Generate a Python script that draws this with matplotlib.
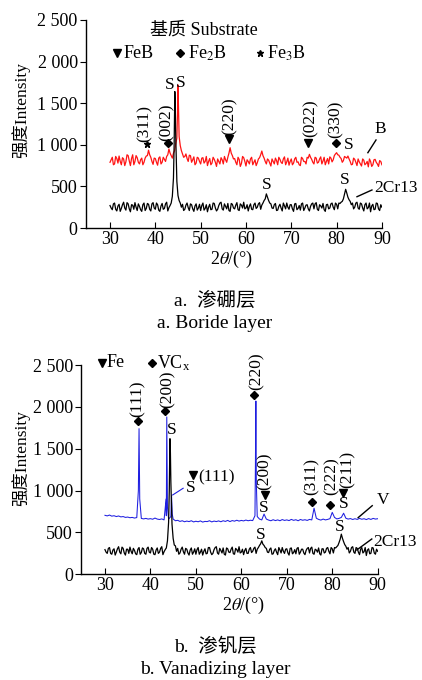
import numpy as np
import matplotlib
matplotlib.use("Agg")
import matplotlib.pyplot as plt

plt.rcParams['font.family'] = ['Liberation Serif', 'Noto Sans CJK SC']
plt.rcParams['mathtext.fontset'] = 'stix'

# 2theta grid: main points every 0.5 degree, mid points in between
two_theta = np.linspace(30, 90, 121)
two_theta_mid = np.linspace(30.25, 89.75, 120)

# (a) boride layer, red curve
boride = [790, 850, 770, 835, 865, 760, 830, 795, 870, 750,
          880, 800, 845, 770, 840, 790, 865, 935, 850, 765,
          835, 755, 855, 790, 825, 860, 950, 870, 900, 1010,
          1720, 990, 890, 860, 835, 875, 790, 855, 780, 840,
          770, 845, 800, 750, 835, 780, 825, 740, 800, 845,
          770, 820, 850, 965, 870, 835, 760, 825, 775, 845,
          745, 800, 830, 760, 820, 785, 845, 925, 840, 770,
          815, 745, 800, 840, 760, 825, 775, 855, 795, 755,
          830, 780, 850, 795, 750, 835, 800, 850, 885, 825,
          770, 840, 790, 855, 805, 760, 835, 855, 795, 870,
          905, 875, 835, 810, 850, 865, 800, 765, 825, 750,
          795, 745, 815, 775, 735, 800, 760, 825, 770, 810,
          760]
boride_mid = [820, 760, 860, 780, 800, 845, 750, 880, 805, 835,
              760, 870, 790, 820, 760, 840, 870, 880, 800, 840,
              790, 840, 770, 850, 800, 880, 900, 840, 930, 1080,
              1100, 930, 850, 890, 800, 870, 820, 760, 850, 800,
              840, 780, 860, 800, 760, 850, 790, 830, 770, 820,
              860, 790, 900, 900, 830, 790, 850, 740, 860, 800,
              820, 770, 850, 790, 750, 830, 880, 870, 800, 830,
              780, 830, 770, 810, 850, 790, 830, 760, 840, 800,
              760, 830, 790, 760, 850, 800, 770, 840, 850, 790,
              850, 780, 830, 770, 850, 800, 770, 840, 820, 890,
              880, 850, 790, 860, 840, 830, 760, 840, 790, 830,
              770, 830, 760, 800, 830, 740, 820, 790, 740, 800]
boride_peak_x = [44.9, 45.1]
boride_peak_y = [1400, 1450]

# (a) substrate 2Cr13, black curve
sub_a = [270, 220, 300, 205, 285, 235, 310, 215, 290, 195,
         275, 305, 210, 260, 200, 300, 235, 285, 205, 305,
         225, 280, 200, 295, 235, 310, 245, 300, 600, 1100,
         390, 300, 285, 225, 300, 210, 280, 200, 290, 240,
         210, 300, 235, 195, 285, 225, 295, 205, 270, 310,
         215, 260, 295, 200, 285, 230, 305, 210, 275, 310,
         240, 205, 290, 220, 300, 250, 305, 275, 330, 410,
         330, 290, 235, 295, 215, 285, 205, 265, 300, 225,
         280, 200, 295, 235, 215, 300, 240, 280, 205, 290,
         230, 305, 210, 265, 295, 200, 285, 240, 300, 220,
         285, 300, 310, 350, 465, 370, 320, 300, 250, 310,
         225, 290, 205, 300, 245, 195, 285, 225, 295, 210,
         250]
sub_a_mid = [240, 290, 225, 265, 200, 280, 240, 305, 230, 280,
             225, 250, 290, 220, 280, 210, 295, 225, 290, 240,
             300, 215, 265, 225, 290, 205, 270, 380, 1400, 560,
             330, 250, 210, 275, 245, 290, 230, 265, 215, 285,
             270, 215, 280, 250, 220, 300, 240, 225, 300, 230,
             290, 230, 210, 295, 240, 275, 220, 290, 240, 230,
             280, 260, 225, 280, 235, 290, 225, 300, 350, 370,
             300, 240, 280, 210, 260, 240, 300, 230, 250, 280,
             230, 290, 220, 270, 290, 210, 275, 230, 260, 300,
             290, 225, 280, 240, 220, 280, 230, 290, 250, 300,
             230, 295, 320, 410, 420, 340, 280, 230, 300, 240,
             300, 240, 280, 230, 300, 265, 220, 300, 230, 280]
sub_a_peak_x = [44.15, 44.3, 44.4]
sub_a_peak_y = [1000, 1640, 1450]

# (b) vanadizing layer, blue curve
vanad = [705, 698, 708, 695, 700, 690, 697, 686, 690, 680,
         684, 676, 680, 672, 678, 1740, 668, 662, 668, 660,
         665, 658, 672, 660, 655, 662, 650, 700, 660, 690,
         660, 640, 645, 632, 640, 628, 636, 630, 640, 626,
         634, 628, 638, 624, 632, 630, 640, 626, 636, 630,
         638, 628, 640, 632, 644, 630, 642, 635, 646, 636,
         644, 638, 648, 640, 646, 642, 700, 690, 660, 650,
         720, 660, 648, 640, 652, 642, 650, 640, 654, 644,
         650, 642, 656, 645, 652, 640, 655, 646, 652, 644,
         656, 650, 790, 670, 656, 648, 660, 650, 656, 665,
         740, 680, 662, 668, 680, 730, 670, 660, 666, 655,
         664, 656, 668, 658, 664, 654, 666, 656, 668, 660,
         664]
vanad_peak_x = [37.35, 37.65, 43.45, 43.6, 43.75, 44.65, 44.8, 63.1, 63.2, 63.3]
vanad_peak_y = [1000, 900, 900, 1880, 800, 940, 720, 1300, 2070, 1100]

# (b) substrate 2Cr13, black curve
sub_b = [295, 250, 320, 240, 305, 265, 330, 245, 310, 230,
         300, 325, 245, 285, 235, 320, 260, 305, 240, 325,
         255, 300, 235, 315, 265, 330, 270, 315, 620, 1100,
         430, 340, 310, 255, 325, 240, 300, 230, 315, 265,
         240, 320, 265, 230, 305, 250, 320, 235, 295, 330,
         240, 285, 315, 230, 305, 260, 325, 240, 295, 330,
         265, 235, 310, 250, 320, 275, 325, 300, 345, 400,
         345, 310, 260, 315, 245, 305, 235, 290, 320, 250,
         305, 230, 315, 260, 245, 320, 265, 300, 235, 310,
         255, 325, 240, 290, 315, 230, 305, 265, 320, 245,
         305, 320, 330, 380, 480, 390, 335, 320, 275, 330,
         250, 310, 235, 320, 270, 225, 305, 250, 315, 240,
         275]
sub_b_mid = [265, 310, 250, 290, 230, 305, 265, 325, 255, 300,
             250, 275, 310, 245, 300, 240, 315, 250, 310, 265,
             320, 240, 290, 250, 310, 235, 295, 400, 1400, 600,
             350, 275, 240, 300, 270, 310, 255, 290, 240, 305,
             295, 240, 300, 275, 245, 320, 265, 250, 320, 255,
             310, 255, 240, 315, 265, 300, 245, 310, 265, 255,
             300, 285, 250, 300, 260, 310, 250, 320, 365, 360,
             320, 265, 300, 240, 285, 265, 320, 255, 275, 300,
             255, 310, 245, 295, 310, 240, 300, 255, 285, 320,
             310, 250, 300, 265, 245, 305, 255, 310, 275, 320,
             255, 315, 345, 420, 430, 355, 300, 255, 320, 265,
             320, 265, 300, 255, 320, 290, 245, 320, 255, 300]
sub_b_peak_x = [44.15, 44.3, 44.4]
sub_b_peak_y = [1000, 1620, 1450]

y_ticks = [0, 500, 1000, 1500, 2000, 2500]
y_tick_labels = ['0', '500', '1 000', '1 500', '2 000', '2 500']
x_ticks = [30, 40, 50, 60, 70, 80, 90]

RED = '#ff1414'
BLUE = '#1e1ee0'


def curve(base, mid, px, py):
    x = np.concatenate([two_theta, two_theta_mid if mid is not None else [], px])
    y = np.concatenate([base, mid if mid is not None else [], py]).astype(float)
    order = np.argsort(x, kind='stable')
    return x[order], y[order]


def style_axes(ax, xmin):
    ax.set_xlim(xmin, 90)
    ax.set_ylim(0, 2500)
    ax.set_xticks(x_ticks)
    ax.set_yticks(y_ticks)
    ax.set_yticklabels(y_tick_labels)
    for s in ['top', 'right']:
        ax.spines[s].set_visible(False)
    for s in ['left', 'bottom']:
        ax.spines[s].set_linewidth(1.0)
    ax.tick_params(axis='x', direction='in', length=4, labelsize=13, pad=2)
    ax.tick_params(axis='y', direction='out', length=4, labelsize=13, pad=2)


def hkl(ax, x, y, s):
    ax.text(x, y, s, rotation=90, ha='center', va='bottom', fontsize=12.5)


def mark(ax, x, y, m, ms):
    ax.plot([x], [y], marker=m, color='k', ms=ms, clip_on=False, ls='none')


def txt(ax, x, y, s, **kw):
    kw.setdefault('fontsize', 12.5)
    kw.setdefault('ha', 'center')
    kw.setdefault('va', 'center')
    ax.text(x, y, s, clip_on=False, **kw)


fig = plt.figure(figsize=(4.22, 6.8), dpi=100)

# ---- panel a ----
ax1 = fig.add_axes([0.2038, 0.6647, 0.7012, 0.3059])
x, y = curve(boride, boride_mid, boride_peak_x, boride_peak_y)
ax1.plot(x, y, color=RED, lw=0.9)
x, y = curve(sub_a, sub_a_mid, sub_a_peak_x, sub_a_peak_y)
ax1.plot(x, y, color='k', lw=0.9)
style_axes(ax1, 24.7)

txt(ax1, 50.8, 2380, '基质 Substrate', fontsize=13)
mark(ax1, 31.5, 2103, 'v', 6)
txt(ax1, 32.9, 2103, 'FeB', ha='left', fontsize=13)
mark(ax1, 45.5, 2103, 'D', 4)
txt(ax1, 47.2, 2103, 'Fe$_2$B', ha='left', fontsize=13)
mark(ax1, 63.1, 2103, '*', 5)
txt(ax1, 64.7, 2103, 'Fe$_3$B', ha='left', fontsize=13)

mark(ax1, 38.2, 1010, '*', 5)
hkl(ax1, 37.6, 1037, '(311)')
mark(ax1, 42.9, 1025, 'D', 4)
hkl(ax1, 42.5, 1050, '(002)')
txt(ax1, 43.1, 1720, 'S')
txt(ax1, 45.5, 1740, 'S')
mark(ax1, 56.3, 1066, 'v', 6)
hkl(ax1, 56.5, 1118, '(220)')
mark(ax1, 73.8, 1018, 'v', 6)
hkl(ax1, 74.2, 1097, '(022)')
mark(ax1, 79.8, 1018, 'D', 4)
hkl(ax1, 79.8, 1082, '(330)')
txt(ax1, 82.6, 998, 'S')
txt(ax1, 89.6, 1190, 'B')
ax1.plot([86.9, 88.7], [905, 1058], color='k', lw=1.0, clip_on=False)
txt(ax1, 64.6, 517, 'S')
txt(ax1, 81.7, 577, 'S')
txt(ax1, 88.3, 481, '2Cr13', ha='left')
ax1.plot([84.5, 87.8], [376, 457], color='k', lw=1.0, clip_on=False)

fig.text(231.7 / 422, 1 - 259 / 680, '2$\\theta$/(°)', ha='center', va='center', fontsize=13)
fig.text(21 / 422, 1 - 110 / 680, '强度Intensity', rotation=90, ha='center', va='center', fontsize=12.5)
fig.text(215 / 422, 1 - 301 / 680, 'a.  渗硼层', ha='center', va='center', fontsize=14)
fig.text(215 / 422, 1 - 323 / 680, 'a. Boride layer', ha='center', va='center', fontsize=14)

# ---- panel b ----
ax2 = fig.add_axes([0.1927, 0.1554, 0.7023, 0.3078])
x, y = curve(vanad, None, vanad_peak_x, vanad_peak_y)
ax2.plot(x, y, color=BLUE, lw=0.75)
x, y = curve(sub_b, sub_b_mid, sub_b_peak_x, sub_b_peak_y)
ax2.plot(x, y, color='k', lw=0.9)
style_axes(ax2, 24.8)

mark(ax2, 29.3, 2530, 'v', 6)
txt(ax2, 30.4, 2530, 'Fe', ha='left', fontsize=13)
mark(ax2, 40.4, 2523, 'D', 4)
txt(ax2, 41.5, 2523, 'VC$_\\mathregular{x}$', ha='left', fontsize=13)

mark(ax2, 37.3, 1834, 'D', 4)
hkl(ax2, 37.3, 1885, '(111)')
mark(ax2, 43.3, 1945, 'D', 4)
hkl(ax2, 43.9, 1990, '(200)')
txt(ax2, 44.7, 1727, 'S')
mark(ax2, 49.3, 1188, 'v', 6)
txt(ax2, 50.5, 1160, '(111)', ha='left')
txt(ax2, 48.8, 1028, 'S')
ax2.plot([44.9, 47.2], [948, 1028], color=BLUE, lw=0.8, clip_on=False)
mark(ax2, 62.8, 2136, 'D', 4)
hkl(ax2, 63.4, 2204, '(220)')
mark(ax2, 65.1, 948, 'v', 6)
hkl(ax2, 65.2, 1008, '(200)')
txt(ax2, 65.0, 790, 'S')
mark(ax2, 75.5, 868, 'D', 4)
hkl(ax2, 75.5, 948, '(311)')
mark(ax2, 79.4, 829, 'D', 4)
hkl(ax2, 79.9, 948, '(222)')
mark(ax2, 82.3, 969, 'v', 6)
hkl(ax2, 83.3, 1029, '(211)')
txt(ax2, 82.5, 841, 'S')
txt(ax2, 91.2, 889, 'V')
ax2.plot([85.7, 88.8], [677, 820], color='k', lw=1.0, clip_on=False)
txt(ax2, 64.3, 470, 'S')
txt(ax2, 81.7, 569, 'S')
txt(ax2, 89.1, 390, '2Cr13', ha='left')
ax2.plot([85.4, 88.7], [291, 422], color='k', lw=1.0, clip_on=False)

fig.text(243.3 / 422, 1 - 605 / 680, '2$\\theta$/(°)', ha='center', va='center', fontsize=13)
fig.text(21 / 422, 1 - 458 / 680, '强度Intensity', rotation=90, ha='center', va='center', fontsize=12.5)
fig.text(215 / 422, 1 - 647 / 680, 'b.  渗钒层', ha='center', va='center', fontsize=14)
fig.text(215 / 422, 1 - 670 / 680, 'b. Vanadizing layer', ha='center', va='center', fontsize=14)

fig.savefig('out.png', dpi=100)
